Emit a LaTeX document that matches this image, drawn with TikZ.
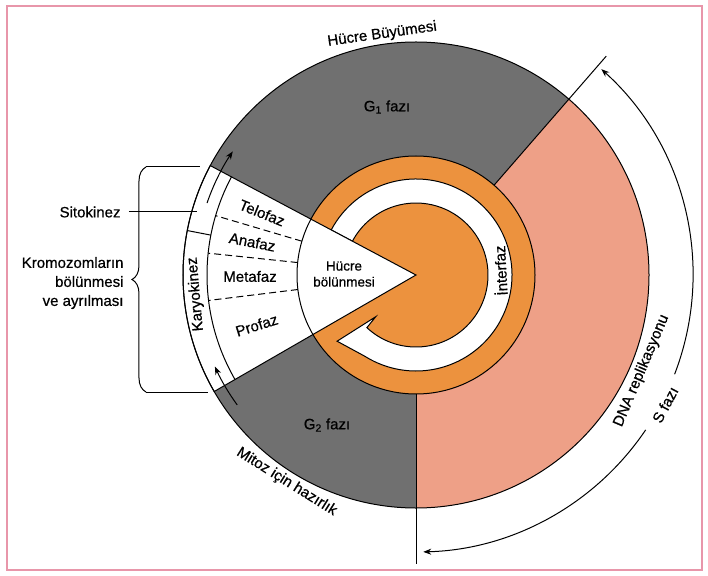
\documentclass[tikz,border=0pt]{standalone}
\usepackage{fontspec}
\setmainfont{Liberation Sans}[FakeBold=0.6]
\usepackage{tikz}
\usetikzlibrary{arrows.meta,calc,decorations.pathreplacing,positioning}
\definecolor{fazgri}{RGB}{112,112,112}
\definecolor{somon}{RGB}{238,160,135}
\definecolor{turuncu}{RGB}{236,146,62}
\definecolor{cerceve}{RGB}{232,150,170}

\begin{document}
\begin{tikzpicture}[x=1pt,y=1pt,line width=1pt,
  lbl/.style={font=\fontsize{15}{19}\selectfont,inner sep=1pt},
  >={Stealth[length=8pt,width=6pt]}]
\useasboundingbox (-416,275) rectangle (292,-300);
\draw[cerceve,line width=1.6pt] (-409,269) rectangle (286,-295);
\fill[fazgri] (0,0) circle (233);
\fill[somon] (0,0) -- (49:233) arc[start angle=49,end angle=-90,radius=233] -- cycle;
\fill[turuncu] (0,0) circle (119);
\filldraw[fill=white] (152:96) arc[start angle=152,end angle=-122,radius=96]
  -- (-140:103) -- (-134:58) -- (-133:72) arc[start angle=-133,end angle=152,radius=72] -- cycle;
\filldraw[fill=white] (0,0) -- (152:233) arc[start angle=152,end angle=210,radius=233] -- cycle;
\draw (0,0) circle (233);
\draw (0,0) circle (119);
\draw (49:119) -- (49:290);
\draw (270:119) -- (270:289);
\draw (152:209) arc[start angle=152,end angle=210,radius=209];
\draw (169:209) -- (169:233);
\foreach \a in {163.5,174,187}
  \draw[dash pattern=on 7pt off 4pt] (\a:119) -- (\a:209);
\draw[->] (161:221) arc[start angle=161,end angle=146,radius=221];
\draw[->] (216:221) arc[start angle=216,end angle=204.5,radius=221];
\draw[->] (-21:277) arc[start angle=-21,end angle=48,radius=277];
\draw[->] (-34:277) arc[start angle=-34,end angle=-88.5,radius=277];

\node[lbl,rotate=8] (buyume) at (98:243) {Hücre Büyümesi};
\node[lbl] (g1) at (-29,168) {G\textsubscript{1} fazı};
\node[lbl] (g2) at (-89,-150) {G\textsubscript{2} fazı};
\node[lbl,font=\fontsize{13.5}{16}\selectfont,align=center] (bolunme) at (-72,1) {Hücre\\bölünmesi};
\node[lbl,rotate=93] (interfaz) at (3:84) {İnterfaz};
\node[lbl,rotate=-22] (telofaz) at (158:166) {Telofaz};
\node[lbl,rotate=-11] (anafaz) at (168.6:167) {Anafaz};
\node[lbl] (metafaz) at (180.5:166) {Metafaz};
\node[lbl,rotate=17.5] (profaz) at (197.5:167) {Profaz};
\node[lbl,rotate=95] (karyo) at (185:221) {Karyokinez};
\node[lbl,rotate=-32] (mitoz) at (238:244) {Mitoz için hazırlık};
\node[lbl,rotate=67] (dna) at (-23:245) {DNA replikasyonu};
\node[lbl,rotate=62] (sfaz) at (-27.5:281) {S fazı};

\node[lbl,anchor=east] (sito) at (-294,63) {Sitokinez};
\coordinate (sitoend) at (-219,63);
\path (sito) edge[shorten <=7pt] (sitoend);
\node[lbl,anchor=east,align=right] (kromo) at (-291,-8) {Kromozomların\\bölünmesi\\ve ayrılması};
\coordinate (bu) at (-270,108);
\coordinate (ba) at (-270,-117);
\coordinate (bu2) at (-216,108);
\coordinate (ba2) at (-208,-117);
\draw[decorate,decoration={brace,amplitude=14pt}] (ba) -- (bu);
\draw (bu) -- (bu2);
\draw (ba) -- (ba2);
\end{tikzpicture}
\end{document}
